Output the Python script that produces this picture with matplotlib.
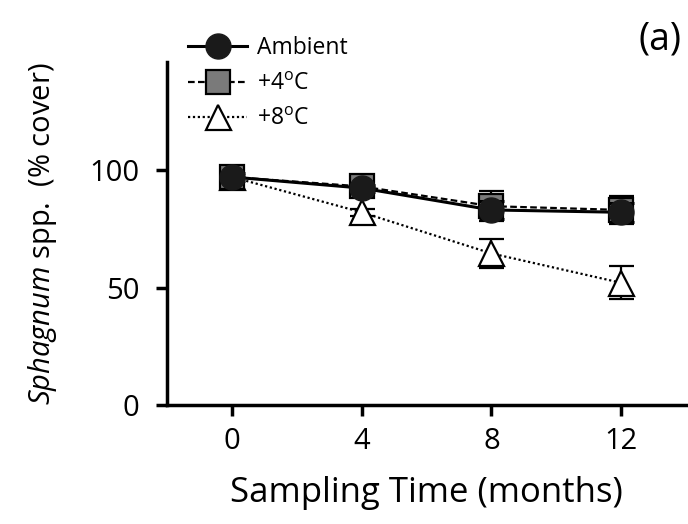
import matplotlib
matplotlib.use('Agg')
import matplotlib.pyplot as plt
from matplotlib.lines import Line2D

plt.rcParams['font.family'] = ['Open Sans', 'DejaVu Sans']
plt.rcParams['mathtext.fontset'] = 'custom'
plt.rcParams['mathtext.rm'] = 'Open Sans'
plt.rcParams['mathtext.it'] = 'Open Sans:italic'

months = [0, 4, 8, 12]
ambient = [97, 92.3, 83, 82]
ambient_err = [1.5, 1.5, 4, 4]
warm4 = [97, 93, 84.6, 83]
warm4_err = [1.5, 1.5, 6.5, 6]
warm8 = [97, 82, 64.5, 52]
warm8_err = [1.5, 1.5, 6, 7]
labels = ['Ambient', '+4$^{\\rm o}$C', '+8$^{\\rm o}$C']

fig = plt.figure(figsize=(6.88, 5.24), dpi=100)
ax = fig.add_axes([0.243, 0.227, 0.754, 0.655])

sty8 = dict(marker='^', ls=(0, (1, 1.2)), color='black', mfc='white', mec='black',
            ms=18, mew=1.6, lw=1.6)
sty4 = dict(marker='s', ls=(0, (3, 1.5)), color='black', mfc='#7a7a7a', mec='black',
            ms=17, mew=1.6, lw=1.6)
sty0 = dict(marker='o', ls='-', color='black', mfc='#1a1a1a', mec='#1a1a1a',
            ms=18, lw=2.2)

ax.errorbar(months, warm8, yerr=warm8_err, capsize=9, capthick=2.2,
            elinewidth=1.6, zorder=2, **sty8)
ax.errorbar(months, warm4, yerr=warm4_err, capsize=9, capthick=2.2,
            elinewidth=1.6, zorder=3, **sty4)
ax.errorbar(months, ambient, yerr=ambient_err, capsize=9, capthick=2.2,
            elinewidth=1.6, zorder=4, **sty0)

ax.set_xlim(-2, 14)
ax.set_ylim(0, 146)
ax.set_xticks(months)
ax.set_yticks([0, 50, 100])
ax.tick_params(direction='out', length=8, width=2.5, labelsize=21)
ax.tick_params(axis='y', pad=12)
ax.tick_params(axis='x', pad=8)
for s in ['top', 'right']:
    ax.spines[s].set_visible(False)
for s in ['left', 'bottom']:
    ax.spines[s].set_linewidth(2.5)

ax.set_xlabel('Sampling Time (months)', fontsize=25, labelpad=14)
ax.set_ylabel('$\\it{Sphagnum}$ spp.  (% cover)', fontsize=21, labelpad=22)

handles = [Line2D([], [], **sty0), Line2D([], [], **sty4), Line2D([], [], **sty8)]
ax.legend(handles, labels, loc='upper left',
          bbox_to_anchor=(0.0, 1.135), frameon=False, fontsize=16.5,
          handlelength=2.6, handletextpad=0.4, labelspacing=0.5, numpoints=1)

fig.text(0.96, 0.925, '(a)', fontsize=27, ha='center', va='center')

fig.savefig('out.png', dpi=100)
